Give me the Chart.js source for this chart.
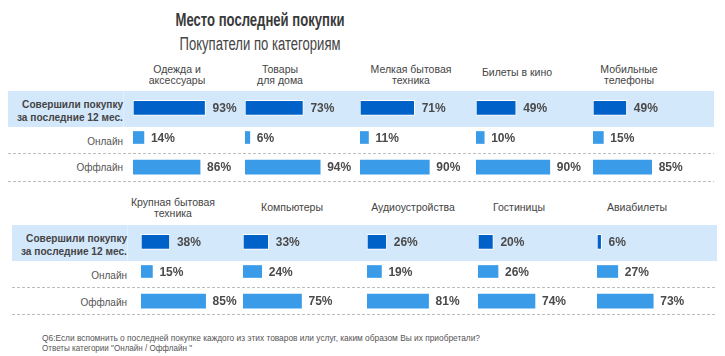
<!DOCTYPE html>
<html><head><meta charset="utf-8">
<script src="https://cdn.jsdelivr.net/npm/chart.js@4/dist/chart.umd.min.js"></script>
<style>
body{margin:0;width:725px;height:356px;background:#fff;position:relative;overflow:hidden;font-family:"Liberation Sans",Arial,sans-serif;}
.abs{position:absolute;white-space:nowrap;}
.cc{transform:translate(-50%,-50%);}
.rc{transform:translateY(-50%);text-align:right;}
.dash{height:1px;background:repeating-linear-gradient(to right,#bdbdbd 0 3px,transparent 3px 5px);}
canvas{position:absolute;}
</style></head><body>
<script>
// ---------------- DATA ----------------
const title = 'Место последней покупки';
const subtitle = 'Покупатели по категориям';
const categories = [
  ['Одежда и','аксессуары'], ['Товары','для дома'], ['Мелкая бытовая','техника'], ['Билеты в кино'], ['Мобильные','телефоны'],
  ['Крупная бытовая','техника'], ['Компьютеры'], ['Аудиоустройства'], ['Гостиницы'], ['Авиабилеты']
];
const rowLabels = [['Совершили покупку','за последние 12 мес.'], ['Онлайн'], ['Оффлайн']];
const purchased = [93, 73, 71, 49, 49, 38, 33, 26, 20, 6];
const online    = [14, 6, 11, 10, 15, 15, 24, 19, 26, 27];
const offline   = [86, 94, 90, 90, 85, 85, 75, 81, 74, 73];
const footnote = ['Q6:Если вспомнить о последней покупке каждого из этих товаров или услуг, каким образом Вы их приобретали?',
                  'Ответы категории  "Онлайн / Оффлайн "'];

// ---------------- LAYOUT ----------------
const sections = [
  {bandL:8, bandR:714, bandT:91, bandB:127, divX:123, dashes:[153,181], canvasTop:93, labelR:123,
   boldY:[104,117], onlineY:141, offlineY:167, catY2:[69,80], catY1:72,
   colStart:[133,245,360,476,593], catX:[177,280,411,517,629], pxPct:[0.78,0.80,0.77,0.82,0.69]},
  {bandL:12, bandR:717, bandT:225, bandB:261, divX:127, dashes:[287,314], canvasTop:227, labelR:127,
   boldY:[238,251], onlineY:275, offlineY:302, catY2:[202,213], catY1:207,
   colStart:[141,243,367,478,597], catX:[173,292,413,519,637], pxPct:[0.76,0.78,0.76,0.77,0.77]}
];
const boldWidths = [101, 106];
const CW = 112, CH = 89;
const DARK = '#0062C9', LIGHT = '#3A9BE9', BAND = '#D4E8FB';

function addDiv(cls, style, text){
  const d=document.createElement('div'); d.className='abs '+cls; Object.assign(d.style, style);
  if(text!==undefined) d.textContent=text; document.body.appendChild(d); return d;
}
// condensed look: squeeze text horizontally to a target width
function squeeze(d, target, mode){
  const w=d.getBoundingClientRect().width;
  const k=target/w;
  if(mode==='center'){ d.style.transform='translate(-50%,-50%) scaleX('+k+')'; }
  else if(mode==='right'){ d.style.transformOrigin='right center'; d.style.transform='translateY(-50%) scaleX('+k+')'; }
  else { d.style.transformOrigin='left center'; d.style.transform='scaleX('+k+')'; }
}

squeeze(addDiv('cc',{left:'260px',top:'20px',fontSize:'18px',fontWeight:'bold',color:'#3a3a3a'},title),169,'center');
squeeze(addDiv('cc',{left:'260px',top:'44px',fontSize:'18px',color:'#444'},subtitle),161,'center');
squeeze(addDiv('',{left:'42px',top:'333px',fontSize:'9.5px',color:'#555',lineHeight:'10px'},footnote[0]),438,'left');
squeeze(addDiv('',{left:'42px',top:'343px',fontSize:'9.5px',color:'#555',lineHeight:'10px'},footnote[1]),150,'left');

const valueLabels = {id:'valueLabels', afterDatasetsDraw(chart){
  const ctx=chart.ctx; ctx.save();
  ctx.font='bold 12px "Liberation Sans", Arial, sans-serif'; ctx.fillStyle='#4a4a4a'; ctx.textBaseline='middle';
  chart.data.datasets.forEach((ds,i)=>{
    chart.getDatasetMeta(i).data.forEach((el,j)=>{
      const v=ds.data[j]; if(v==null) return;
      ctx.fillText(v+'%', el.x+7, el.y+1);
    });
  });
  ctx.restore();
}};

sections.forEach((s,si)=>{
  addDiv('',{left:s.bandL+'px',top:s.bandT+'px',width:(s.bandR-s.bandL)+'px',height:(s.bandB-s.bandT)+'px',background:BAND});
  addDiv('',{left:s.divX+'px',top:s.bandT+'px',width:'1px',height:(s.bandB-s.bandT)+'px',background:'#E3F0FC'});
  s.dashes.forEach(y=>addDiv('dash',{left:s.bandL+'px',top:y+'px',width:(s.bandR-s.bandL)+'px'}));
  // row labels
  s.boldY.forEach((y,k)=>squeeze(addDiv('rc',{right:(725-s.labelR)+'px',top:y+'px',fontSize:'11px',fontWeight:'bold',color:'#444'},rowLabels[0][k]),boldWidths[k],'right'));
  addDiv('rc',{right:(725-s.labelR)+'px',top:s.onlineY+'px',fontSize:'10px',color:'#555'},rowLabels[1][0]);
  addDiv('rc',{right:(725-s.labelR)+'px',top:s.offlineY+'px',fontSize:'10px',color:'#555'},rowLabels[2][0]);

  for(let c=0;c<5;c++){
    const idx=si*5+c;
    const cat=categories[idx];
    if(cat.length===2){
      cat.forEach((t,k)=>addDiv('cc',{left:s.catX[c]+'px',top:s.catY2[k]+'px',fontSize:'10.5px',color:'#444'},t));
    } else {
      addDiv('cc',{left:s.catX[c]+'px',top:s.catY1+'px',fontSize:'10.5px',color:'#444'},cat[0]);
    }
    const cv=document.createElement('canvas');
    cv.width=CW; cv.height=CH;
    cv.style.left=s.colStart[c]+'px'; cv.style.top=s.canvasTop+'px';
    cv.style.width=CW+'px'; cv.style.height=CH+'px';
    document.body.appendChild(cv);
    new Chart(cv,{
      type:'bar',
      data:{labels:rowLabels.map(r=>r.join(' ')),
        datasets:[
          {data:[purchased[idx],null,null],backgroundColor:DARK,borderColor:'#ffffff',borderWidth:1,borderSkipped:false,barThickness:15,grouped:false},
          {data:[null,online[idx],null],backgroundColor:LIGHT,barThickness:12,grouped:false},
          {data:[null,null,offline[idx]],backgroundColor:LIGHT,barThickness:14,grouped:false}
        ]},
      options:{
        indexAxis:'y', responsive:false, animation:false, devicePixelRatio:1,
        layout:{padding:0},
        plugins:{legend:{display:false},tooltip:{enabled:false},title:{display:false}},
        scales:{
          x:{display:false,min:0,max:CW/s.pxPct[c]},
          y:{display:false}
        }
      },
      plugins:[valueLabels]
    });
  }
});
</script>
</body></html>
